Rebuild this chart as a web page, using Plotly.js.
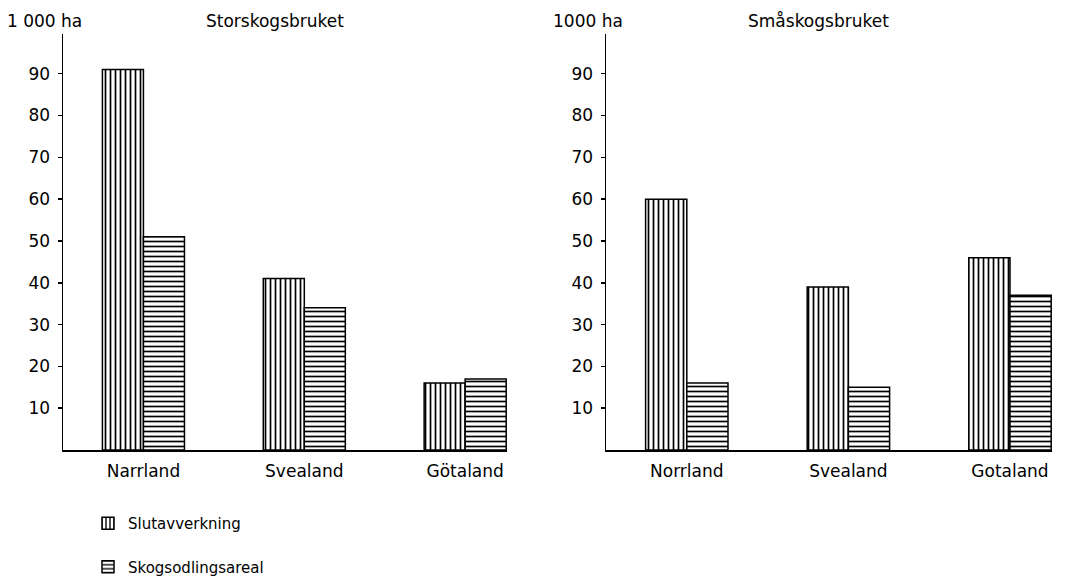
<!DOCTYPE html>
<html>
<head>
<meta charset="utf-8">
<script src="https://cdn.plot.ly/plotly-3.0.1.min.js"></script>
<style>html,body{margin:0;padding:0;background:#fff;}#chart{width:1067px;height:576px;}</style>
</head>
<body>
<div id="chart"></div>
<script>
// ---- data ----
const categoriesLeft = ['Narrland', 'Svealand', 'Götaland'];
const categoriesRight = ['Norrland', 'Svealand', 'Gotaland'];
const seriesNames = ['Slutavverkning', 'Skogsodlingsareal'];
const storSlutavverkning = [91, 41, 16];
const storSkogsodling = [51, 34, 17];
const smaSlutavverkning = [60, 39, 46];
const smaSkogsodling = [16, 15, 37];
const yTickValues = [10, 20, 30, 40, 50, 60, 70, 80, 90];
const leftTitle = 'Storskogsbruket';
const rightTitle = 'Småskogsbruket';
const leftUnit = '1 000 ha';
const rightUnit = '1000 ha';

const FONT = 'DejaVu Sans, sans-serif';
const W = 1067, H = 576;

function barTrace(x, y, name, shape, xa, ya, showlegend) {
  return {
    type: 'bar', x: x, y: y, name: name, xaxis: xa, yaxis: ya,
    legendgroup: name, showlegend: showlegend,
    marker: {
      color: 'white',
      line: {color: 'black', width: 1.5},
      pattern: {shape: shape, size: 5, solidity: 0.34, fgcolor: 'black', bgcolor: 'white'}
    },
    hoverinfo: 'skip'
  };
}

const data = [
  barTrace(categoriesLeft, storSlutavverkning, seriesNames[0], '|', 'x', 'y', true),
  barTrace(categoriesLeft, storSkogsodling, seriesNames[1], '-', 'x', 'y', true),
  barTrace(categoriesRight, smaSlutavverkning, seriesNames[0], '|', 'x2', 'y2', false),
  barTrace(categoriesRight, smaSkogsodling, seriesNames[1], '-', 'x2', 'y2', false)
];

function yAxis(anchor) {
  return {
    anchor: anchor, domain: [(H - 450) / H, (H - 34) / H], range: [0, 99.5],
    showline: true, linecolor: 'black', linewidth: 1.5,
    showgrid: false, zeroline: false,
    ticks: 'outside', ticklen: 4, tickwidth: 1.5, tickcolor: 'black',
    tickvals: yTickValues, ticktext: yTickValues.map(String),
    ticklabelstandoff: 4,
    tickfont: {family: FONT, size: 17, color: 'black'},
    fixedrange: true, automargin: false
  };
}
function xAxis(anchor, domain) {
  return {
    anchor: anchor, domain: domain, type: 'category', range: [-0.5, 2.26],
    showline: true, linecolor: 'black', linewidth: 1.5,
    showgrid: false, zeroline: false, ticks: '',
    ticklabelstandoff: 5,
    tickfont: {family: FONT, size: 17, color: 'black'},
    fixedrange: true, automargin: false
  };
}

const layout = {
  width: W, height: H,
  margin: {l: 0, r: 0, t: 0, b: 0, autoexpand: false},
  paper_bgcolor: 'white', plot_bgcolor: 'white',
  barmode: 'group', bargap: 0.49, bargroupgap: 0,
  font: {family: FONT, color: 'black'},
  xaxis: xAxis('y', [63 / W, 507 / W]),
  yaxis: yAxis('x'),
  xaxis2: xAxis('y2', [606 / W, 1052 / W]),
  yaxis2: yAxis('x2'),
  showlegend: true,
  legend: {
    x: 88 / W, y: (H - 507) / H, xanchor: 'left', yanchor: 'top',
    orientation: 'v', tracegroupgap: 21, traceorder: 'grouped',
    font: {family: FONT, size: 15, color: 'black'},
    bgcolor: 'rgba(0,0,0,0)', itemwidth: 30
  },
  annotations: [
    {text: leftUnit, xref: 'paper', yref: 'paper', x: 44 / W, y: (H - 21) / H, xanchor: 'center', yanchor: 'middle', showarrow: false, font: {family: FONT, size: 17, color: 'black'}},
    {text: leftTitle, xref: 'paper', yref: 'paper', x: 275 / W, y: (H - 21) / H, xanchor: 'center', yanchor: 'middle', showarrow: false, font: {family: FONT, size: 17, color: 'black'}},
    {text: rightUnit, xref: 'paper', yref: 'paper', x: 588 / W, y: (H - 21) / H, xanchor: 'center', yanchor: 'middle', showarrow: false, font: {family: FONT, size: 17, color: 'black'}},
    {text: rightTitle, xref: 'paper', yref: 'paper', x: 818 / W, y: (H - 21) / H, xanchor: 'center', yanchor: 'middle', showarrow: false, font: {family: FONT, size: 17, color: 'black'}}
  ]
};

Plotly.newPlot('chart', data, layout, {displayModeBar: false, staticPlot: true});
</script>
</body>
</html>
